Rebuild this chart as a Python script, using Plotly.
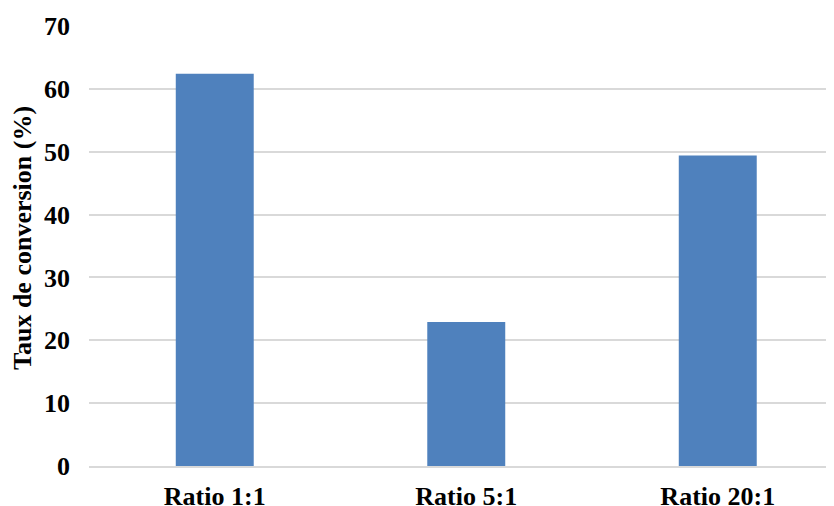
import plotly.graph_objects as go

categories = ["Ratio 1:1", "Ratio 5:1", "Ratio 20:1"]
values = [62.4, 22.9, 49.4]
y_ticks = [0, 10, 20, 30, 40, 50, 60, 70]
y_title = "Taux de conversion (%)"

font_family = "Liberation Serif"
fs = 26

fig = go.Figure(
    go.Bar(
        x=categories,
        y=values,
        marker=dict(color="#4f81bd", line=dict(width=0)),
        width=0.31,
    )
)

# the page body adds an 8px offset, compensate in margins
fig.update_layout(
    width=834,
    height=506,
    margin=dict(l=81, r=0, t=18, b=48),
    plot_bgcolor="white",
    paper_bgcolor="white",
    showlegend=False,
    font=dict(family=font_family, size=fs, color="black"),
)

fig.update_xaxes(
    type="category",
    range=[-0.5, 2.494],
    automargin=False,
    showgrid=False,
    showline=True,
    linecolor="#d9d9d9",
    linewidth=2,
    ticks="",
    ticklabelstandoff=6,
    tickfont=dict(family=font_family, size=fs, color="black", weight="bold"),
)

fig.update_yaxes(
    range=[0, 70],
    tickvals=y_ticks,
    automargin=False,
    showgrid=True,
    gridcolor="#d9d9d9",
    gridwidth=1.5,
    zeroline=False,
    showline=False,
    ticks="",
    ticklabelstandoff=18,
    tickfont=dict(family=font_family, size=fs, color="black", weight="bold"),
)

fig.add_annotation(
    text=y_title,
    xref="paper",
    yref="paper",
    x=0,
    y=0.5,
    xanchor="center",
    yanchor="middle",
    xshift=-67,
    yshift=8,
    textangle=-90,
    showarrow=False,
    font=dict(family=font_family, size=fs, color="black", weight="bold"),
)

fig.write_html("out.html")
